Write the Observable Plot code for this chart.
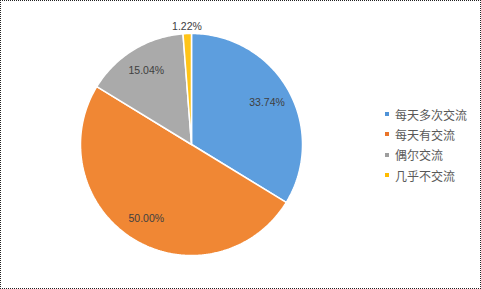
<!DOCTYPE html>
<html>
<head>
<meta charset="utf-8">
<script src="https://cdn.jsdelivr.net/npm/d3@7"></script>
<script src="https://cdn.jsdelivr.net/npm/@observablehq/plot@0.6"></script>
<style>
  html, body { margin: 0; padding: 0; background: #fff; }
  #wrap { position: relative; width: 481px; height: 289px; overflow: hidden; background: #fff; }
  #wrap svg { position: absolute; left: 0; top: 0; }
  #frame { position: absolute; left: 0; top: 0; width: 481px; height: 289px; box-sizing: border-box; border: 1px dotted #222; pointer-events: none; }
  #legend { position: absolute; left: 385px; top: 104px; font-family: "Noto Sans CJK SC", sans-serif; font-size: 12px; color: #595959; }
  .row { display: flex; align-items: center; height: 20.3px; white-space: nowrap; }
  .sw { width: 4px; height: 4px; margin-right: 6px; }
</style>
</head>
<body>
<div id="wrap"><div id="legend"></div><div id="frame"></div></div>
<script>
const categories = ["每天多次交流", "每天有交流", "偶尔交流", "几乎不交流"];
const values = [33.74, 50.00, 15.04, 1.22];
const labels = ["33.74%", "50.00%", "15.04%", "1.22%"];
const colors = ["#4f93d8", "#ea7429", "#9e9e9e", "#ffbc00"];
const lightColors = ["#86bdf0", "#f59a3e", "#cfcfcf", "#ffdc60"];

const total = d3.sum(values);
const pie = d3.pie().sort(null).value(d => d)(values);

// slice outlines in unit-circle data space (angle clockwise from 12 o'clock)
const outline = [];
pie.forEach((p, i) => {
  const cat = categories[i];
  outline.push({cat, x: 0, y: 0});
  const n = Math.max(2, Math.ceil((p.endAngle - p.startAngle) / (Math.PI / 180)));
  for (let k = 0; k <= n; k++) {
    const a = p.startAngle + (p.endAngle - p.startAngle) * k / n;
    outline.push({cat, x: Math.sin(a), y: Math.cos(a)});
  }
  outline.push({cat, x: 0, y: 0});
});

const labelData = pie.map((p, i) => {
  const a = (p.startAngle + p.endAngle) / 2;
  const r = values[i] / total < 0.05 ? 1.06 : 0.78;
  return {label: labels[i], x: r * Math.sin(a), y: r * Math.cos(a)};
});

const patternIds = categories.map((c, i) => "pat" + i);

const chart = Plot.plot({
  width: 481,
  height: 289,
  marginLeft: 80,
  marginRight: 179,
  marginTop: 33,
  marginBottom: 34,
  x: {domain: [-1, 1], axis: null},
  y: {domain: [-1, 1], axis: null},
  color: {domain: categories, range: patternIds.map(id => `url(#${id})`)},
  marks: [
    Plot.line(outline, {x: "x", y: "y", z: "cat", fill: "cat", stroke: "white", strokeWidth: 1.5, strokeLinejoin: "miter", curve: "linear"}),
    Plot.text(labelData, {x: "x", y: "y", text: "label", fill: "#404040", fontSize: 10.5, fontFamily: "Liberation Sans, Arial, sans-serif"})
  ]
});

// texture patterns (Office-style dotted fills)
const ns = "http://www.w3.org/2000/svg";
const defs = document.createElementNS(ns, "defs");
categories.forEach((c, i) => {
  const pat = document.createElementNS(ns, "pattern");
  pat.setAttribute("id", patternIds[i]);
  pat.setAttribute("patternUnits", "userSpaceOnUse");
  pat.setAttribute("width", 2);
  pat.setAttribute("height", 2);
  const base = document.createElementNS(ns, "rect");
  base.setAttribute("width", 2); base.setAttribute("height", 2); base.setAttribute("fill", colors[i]);
  pat.appendChild(base);
  const dots = i === 1 ? [[0, 0], [1, 1]] : [[0, 0]];
  dots.forEach(([dx, dy]) => {
    const r = document.createElementNS(ns, "rect");
    r.setAttribute("x", dx); r.setAttribute("y", dy);
    r.setAttribute("width", 1); r.setAttribute("height", 1);
    r.setAttribute("fill", lightColors[i]);
    pat.appendChild(r);
  });
  defs.appendChild(pat);
});
chart.insertBefore(defs, chart.firstChild);

const wrap = document.getElementById("wrap");
wrap.insertBefore(chart, wrap.firstChild);

const legend = document.getElementById("legend");
categories.forEach((c, i) => {
  const row = document.createElement("div");
  row.className = "row";
  const sw = document.createElement("span");
  sw.className = "sw";
  sw.style.background = colors[i];
  const t = document.createElement("span");
  t.textContent = c;
  row.appendChild(sw);
  row.appendChild(t);
  legend.appendChild(row);
});
</script>
</body>
</html>
